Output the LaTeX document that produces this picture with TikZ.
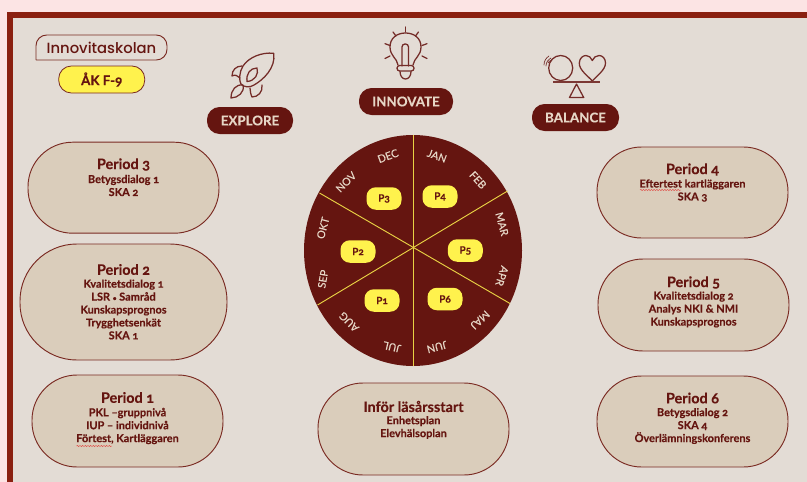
\documentclass[tikz,border=0pt]{standalone}
\usepackage{fontspec}
\setmainfont[Numbers=OldStyle,BoldFeatures={FakeBold=0.3}]{Lato}
\newfontfamily\logofont[UprightFont=* Medium]{Poppins}
\newfontfamily\monthfont[FakeBold=0.4]{Lato}
\usetikzlibrary{shapes.geometric,decorations.pathmorphing}
\definecolor{dk}{HTML}{651510}
\definecolor{frm}{HTML}{8A2010}
\definecolor{ln}{HTML}{7A2A22}
\definecolor{pf}{HTML}{DACDBB}
\definecolor{bgc}{HTML}{E3DCD5}
\definecolor{yel}{HTML}{FFF24D}
\definecolor{pnk}{HTML}{FCE4E4}
\definecolor{cream}{HTML}{E6D6C6}
\definecolor{squig}{HTML}{E0504A}
\tikzset{
  x=0.75pt,y=-0.75pt,
  pillbox/.style={draw=ln,line width=0.7pt,fill=pf,rectangle,rounded corners=#1*0.49*0.75pt,minimum width=191*0.75pt,minimum height=#1*0.75pt,inner sep=0pt},
  ptitle/.style={text=dk,font=\bfseries\fontsize{10.8pt}{12pt}\selectfont,inner sep=0pt},
  plines/.style={text=dk,align=center,font=\bfseries\fontsize{8.2pt}{9.7pt}\selectfont,inner sep=0pt},
  hdr/.style={fill=dk,text=cream,rectangle,rounded corners=9.5pt,minimum height=27*0.75pt,inner sep=0pt,font=\bfseries\fontsize{10pt}{12pt}\selectfont},
  ppill/.style={fill=yel,rectangle,rounded corners=7pt,minimum width=35*0.75pt,minimum height=22.5*0.75pt,inner sep=0pt,text=dk,font=\bfseries\fontsize{7.5pt}{8pt}\selectfont},
  month/.style={text=cream,inner sep=0pt,font=\monthfont\fontsize{8pt}{9pt}\selectfont},
  spoke/.style={draw=yel!85!dk,line width=0.7pt},
  icon/.style={draw=dk!90!white,line width=0.95pt,line cap=round,line join=round},
  squiggle/.style={draw=squig,line width=0.35pt,decorate,decoration={snake,amplitude=0.45pt,segment length=2pt}}
}
\begin{document}
\begin{tikzpicture}
\useasboundingbox (0,0) rectangle (807,482);
\fill[pnk] (0,0) rectangle (807,482);
\fill[frm] (7,12) rectangle (807,482);
\fill[bgc] (13,18) rectangle (807,482);

% logo
\draw[ln,line width=0.7pt] (36,60) -- (36,47) [rounded corners=8pt] -- (36,35) -- (167,35) -- (167,60) [sharp corners] -- (36,60);
\node[text=dk,inner sep=0pt,font=\logofont\fontsize{11.1pt}{13pt}\selectfont] (logo) at (101.5,47.5) {Innovitaskolan};
\node[fill=yel,draw=ln,line width=0.6pt,rectangle,rounded corners=9.5pt,minimum width=86*0.75pt,minimum height=27*0.75pt,inner sep=0pt,text=dk,font=\bfseries\fontsize{10pt}{11pt}\selectfont] (ak) at (101.7,79.5) {ÅK F-9};

% headers
\node[hdr,minimum width=86*0.75pt] (explore) at (250,120.5) {EXPLORE};
\node[hdr,minimum width=94*0.75pt] (innovate) at (406,101.5) {INNOVATE};
\node[hdr,minimum width=87*0.75pt] (balance) at (575.5,117.5) {BALANCE};

% rocket
\draw[icon] (273.7,53.3) .. controls (262,52) and (249,57) .. (243,66) .. controls (239,72) and (239,81) .. (241,84) .. controls (243,87) and (250,88) .. (254,85) .. controls (263,80) and (276,68) .. (273.7,53.3) -- cycle;
\draw[icon] (247,81.5) .. controls (246,74) and (250,68) .. (257,68) .. controls (259,74) and (255,81) .. (247,81.5) -- cycle;
\draw[icon] (242,66) .. controls (236,66) and (232,70) .. (232,76) .. controls (235,74) and (238,76) .. (240,78);
\draw[icon] (250,88) .. controls (250,91) and (251,95) .. (252,97) .. controls (258,97) and (263,92) .. (262,85) ;
\draw[icon] (231,98) .. controls (231,90) and (236,84) .. (243,85) .. controls (245,92) and (238,98) .. (231,98) -- cycle;

% bulb
\draw[icon] (398,65) .. controls (397,58) and (390,56) .. (390,47) .. controls (390,38) and (397,33) .. (405.5,33) .. controls (414,33) and (421,38) .. (421,47) .. controls (421,56) and (414,58) .. (413,65);
\draw[icon,rounded corners=2.2pt] (402,66) -- (402,44) -- (408.5,44) -- (408.5,66);
\draw[icon,rounded corners=2pt] (397,65.5) -- (414,65.5) -- (414,71) -- (397,71) -- cycle;
\draw[icon] (400,71.5) .. controls (400,76) and (402.5,79) .. (405.5,79) .. controls (408.5,79) and (411,76) .. (411,71.5);
\draw[icon] (405.5,27) -- (405.5,32);
\draw[icon] (393,32) -- (396,36);
\draw[icon] (418.5,32) -- (415.5,36);
\draw[icon] (385,43.7) -- (390,45.5);
\draw[icon] (427,43.7) -- (422,45.5);
\draw[icon] (385,58.5) -- (390,56);
\draw[icon] (427,58.5) -- (422,56);

% balance
\draw[icon] (560.7,68) ellipse [x radius=12,y radius=12.5];
\draw[icon] (592.3,81) .. controls (588,76) and (579,70) .. (579.3,63) .. controls (579.5,58) and (583,55.5) .. (586,55.5) .. controls (589,55.5) and (591,57.5) .. (592.3,60.5) .. controls (593.5,57.5) and (596,55.5) .. (599,55.5) .. controls (602.5,55.5) and (605.5,58.5) .. (605.5,63) .. controls (605.5,70) and (596.5,76) .. (592.3,81) -- cycle;
\fill[dk!85!white] (552.5,81) rectangle (600,83);
\draw[icon] (576.5,84) -- (569.5,97.5) -- (583.7,97.5) -- cycle;
\draw[icon,line width=0.5pt] (544,65) .. controls (544,61) and (546,58) .. (549,56);
\draw[icon,line width=0.5pt] (546,66) .. controls (546,62) and (548,60) .. (551,58);
\draw[icon,line width=0.5pt] (548,63) .. controls (548.5,62) and (549.5,60.5) .. (552,60);

% wheel
\node[ellipse,fill=dk,minimum width=218*0.75pt,minimum height=231*0.75pt,inner sep=0pt] (wheel) at (413,250.5) {};
\coordinate (s1) at (413.3,135);
\coordinate (s2) at (413.3,366);
\coordinate (s3) at (507.5,191);
\coordinate (s4) at (317.5,305);
\coordinate (s5) at (319.5,193);
\coordinate (s6) at (510,303.5);
\draw[spoke] (s1) -- (s2);
\draw[spoke] (s3) -- (s4);
\draw[spoke] (s5) -- (s6);
\node[month,rotate=20] (dec) at (388,156) {DEC};
\node[month,rotate=-20] (jan) at (437,156) {JAN};
\node[month,rotate=-48] (feb) at (478,180) {FEB};
\node[month,rotate=-75] (mar) at (502,224) {MAR};
\node[month,rotate=-108] (apr) at (502,276) {APR};
\node[month,rotate=223] (maj) at (480,320) {MAJ};
\node[month,rotate=195] (jun) at (437,347) {JUN};
\node[month,rotate=167] (jul) at (392,347) {JUL};
\node[month,rotate=135] (aug) at (349,322) {AUG};
\node[month,rotate=80] (sep) at (323,279) {SEP};
\node[month,rotate=75] (okt) at (323,228) {OKT};
\node[month,rotate=45] (nov) at (346,182) {NOV};
\node[ppill] (p3) at (384,198.5) {P3};
\node[ppill] (p4) at (440,196.5) {P4};
\node[ppill] (p2) at (358,251.5) {P2};
\node[ppill] (p5) at (465.3,250.5) {P5};
\node[ppill] (p1) at (382,300.5) {P1};
\node[ppill] (p6) at (445,299) {P6};

% period pills
\node[pillbox=91] (b3) at (123.5,187.7) {};
\node[ptitle] (t3) at (123.5,164.5) {Period 3};
\node[plines] (l3) at (123.5,185.5) {Betygsdialog 1\\SKA 2};

\node[pillbox=116,minimum width=207*0.75pt] (b2) at (123.5,302) {};
\node[ptitle] (t2) at (123.5,269.5) {Period 2};
\node[plines] (l2) at (123.5,309.5) {Kvalitetsdialog 1\\LSR {\fontsize{5pt}{9pt}\selectfont•} Samråd\\Kunskapsprognos\\Trygghetsenkät\\SKA 1};

\node[pillbox=92] (b1) at (127.5,421) {};
\node[ptitle] (t1) at (127.5,397.5) {Period 1};
\node[plines] (l1) at (127.5,426) {PKL –gruppnivå\\IUP – individnivå\\Förtest, Kartläggaren};
\draw[squiggle] (76.5,446) -- (112,446);

\node[pillbox=91] (b4) at (692.5,192.5) {};
\node[ptitle] (t4) at (692.5,169.5) {Period 4};
\node[plines] (l4) at (692.5,190.5) {Eftertest kartläggaren\\SKA 3};
\draw[squiggle] (640,190) -- (681,190);

\node[pillbox=92] (b5) at (693.5,305) {};
\node[ptitle] (t5) at (693.5,282.5) {Period 5};
\node[plines] (l5) at (693.5,309.5) {Kvalitetsdialog 2\\Analys NKI \& NMI\\Kunskapsprognos};

\node[pillbox=91] (b6) at (692.5,421.5) {};
\node[ptitle] (t6) at (692.5,398) {Period 6};
\node[plines] (l6) at (692.5,426) {Betygsdialog 2\\SKA 4\\Överlämningskonferens};

\node[pillbox=92] (b0) at (413.5,429) {};
\node[ptitle] (t0) at (413.5,406.5) {Inför läsårsstart};
\node[plines] (l0) at (413.5,427.5) {Enhetsplan\\Elevhälsoplan};
\end{tikzpicture}
\end{document}
